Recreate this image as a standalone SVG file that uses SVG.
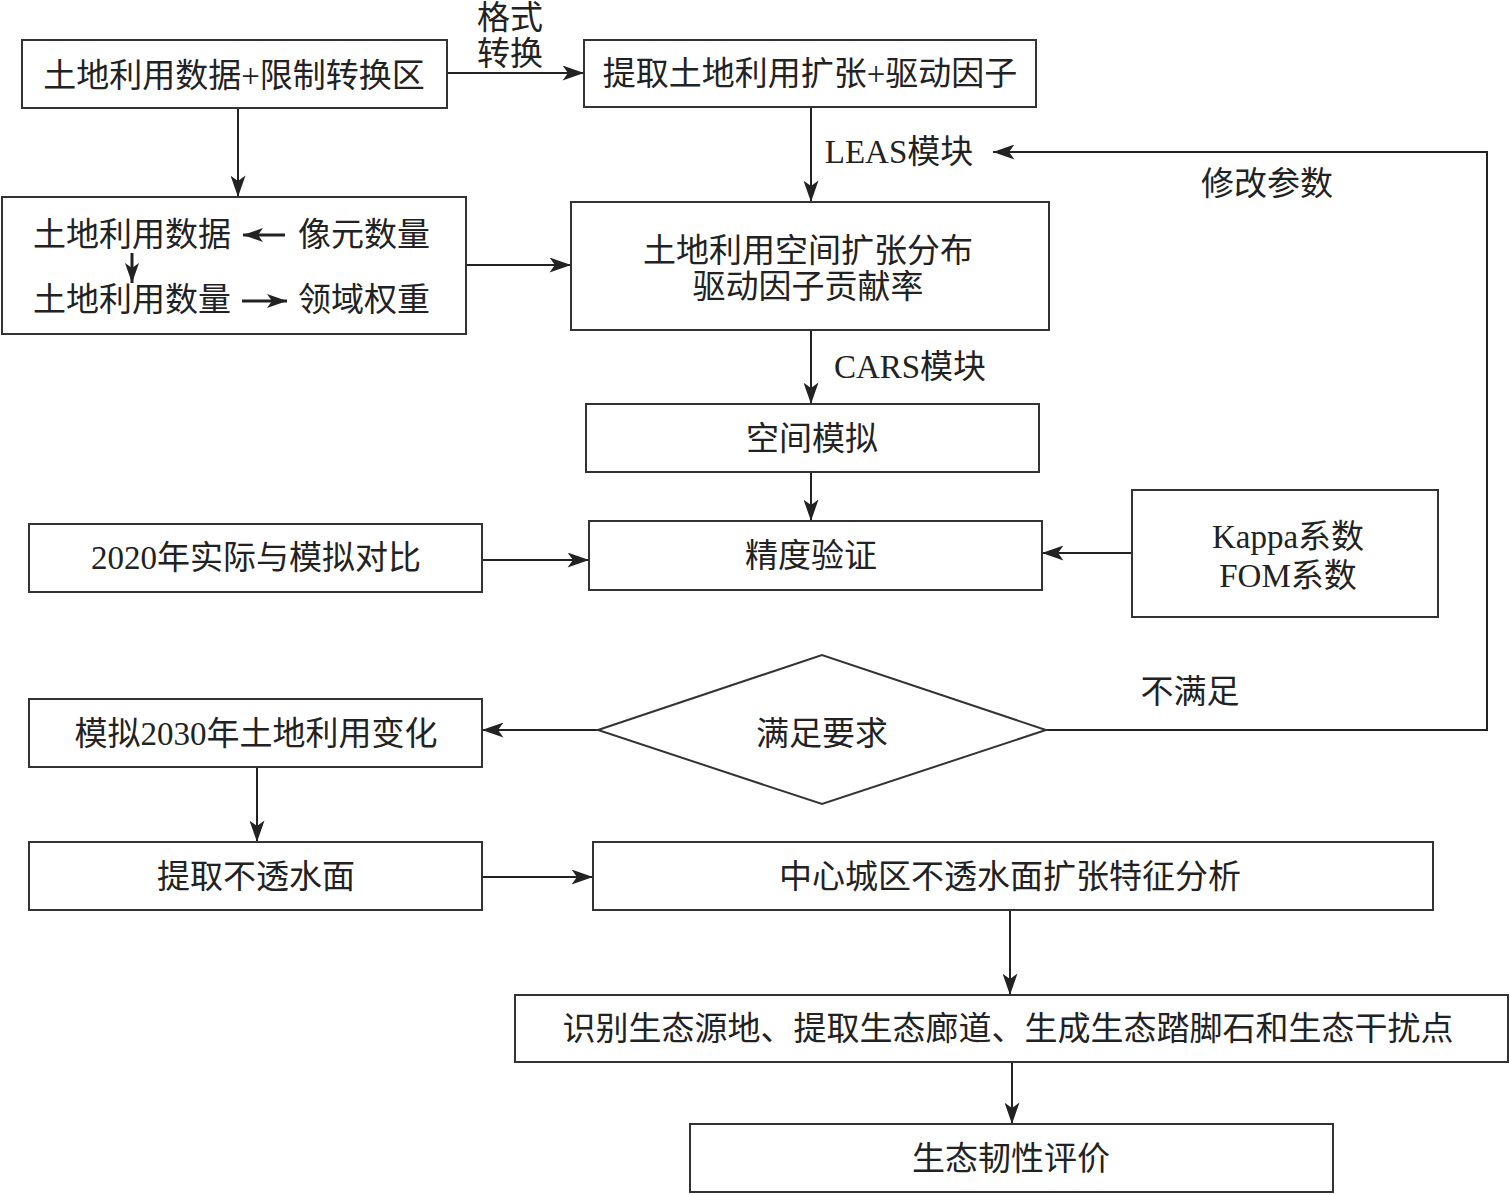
<svg xmlns="http://www.w3.org/2000/svg" width="1510" height="1195" viewBox="0 0 1510 1195">
<defs>
<marker id="ah" viewBox="0 0 20 14" refX="20" refY="7" markerWidth="22" markerHeight="15" markerUnits="userSpaceOnUse" orient="auto">
<path d="M0,0 L20,7 L0,14 L5,7 z" fill="#222"/>
</marker>
<marker id="ahs" viewBox="0 0 20 14" refX="20" refY="7" markerWidth="20" markerHeight="15" markerUnits="userSpaceOnUse" orient="auto">
<path d="M0,0 L20,7 L0,14 L5,7 z" fill="#222"/>
</marker>
</defs>
<style>
rect, polygon { fill: #fff; stroke: #333; stroke-width: 2; }
text { font-family: "Liberation Serif", "Noto Sans CJK SC", serif; font-size: 33px; fill: #222; text-anchor: middle; dominant-baseline: central; }
.c line, .c polyline { stroke: #222; stroke-width: 2; fill: none; marker-end: url(#ah); }
.s { stroke: #222; stroke-width: 3; fill: none; marker-end: url(#ahs); }
</style>
<rect x="0" y="0" width="1510" height="1195" style="fill:#fff;stroke:none"/>

<g class="c" id="connectors">
<line x1="447" y1="73" x2="584" y2="73"/>
<line x1="238" y1="108" x2="238" y2="197"/>
<line x1="811" y1="107" x2="811" y2="202"/>
<line x1="466" y1="265" x2="571" y2="265"/>
<polyline points="1046,730 1487,730 1487,152 993,152"/>
<line x1="811" y1="330" x2="811" y2="404"/>
<line x1="811" y1="472" x2="811" y2="521"/>
<line x1="482" y1="560" x2="589" y2="560"/>
<line x1="1132" y1="553" x2="1042" y2="553"/>
<line x1="598" y1="730" x2="482" y2="730"/>
<line x1="257" y1="767" x2="257" y2="842"/>
<line x1="482" y1="877" x2="593" y2="877"/>
<line x1="1010" y1="910" x2="1010" y2="995"/>
<line x1="1012" y1="1062" x2="1012" y2="1124"/>
</g>

<g id="labels">
<text x="510" y="18">格式</text>
<text x="510" y="54">转换</text>
<text x="899" y="152">LEAS模块</text>
<text x="1267" y="184">修改参数</text>
<text x="910" y="367">CARS模块</text>
<text x="1190" y="692">不满足</text>
</g>

<g id="n1"><rect x="22" y="40" width="425" height="68"/><text x="234" y="76">土地利用数据+限制转换区</text></g>
<g id="n2"><rect x="584" y="40" width="452" height="67"/><text x="810" y="74">提取土地利用扩张+驱动因子</text></g>
<g id="n3"><rect x="2" y="197" width="464" height="137"/>
<text x="132" y="235">土地利用数据</text>
<text x="364" y="235">像元数量</text>
<text x="132" y="300">土地利用数量</text>
<text x="364" y="300">领域权重</text>
<line class="s" x1="285" y1="235" x2="243" y2="235"/>
<line class="s" x1="132" y1="253" x2="132" y2="283"/>
<line class="s" x1="242" y1="301" x2="287" y2="301"/>
</g>
<g id="n4"><rect x="571" y="202" width="478" height="128"/><text x="808" y="251">土地利用空间扩张分布</text><text x="808" y="287">驱动因子贡献率</text></g>
<g id="n5"><rect x="586" y="404" width="453" height="68"/><text x="812" y="439">空间模拟</text></g>
<g id="n6"><rect x="589" y="521" width="453" height="69"/><text x="811" y="556">精度验证</text></g>
<g id="n7"><rect x="29" y="524" width="453" height="68"/><text x="256" y="558">2020年实际与模拟对比</text></g>
<g id="n8"><rect x="1132" y="490" width="306" height="127"/><text x="1288" y="537">Kappa系数</text><text x="1288" y="576">FOM系数</text></g>
<g id="n9"><polygon points="598,730 822,655 1046,730 822,804"/><text x="822" y="734">满足要求</text></g>
<g id="n10"><rect x="29" y="699" width="453" height="68"/><text x="256" y="734">模拟2030年土地利用变化</text></g>
<g id="n11"><rect x="29" y="842" width="453" height="68"/><text x="256" y="877">提取不透水面</text></g>
<g id="n12"><rect x="593" y="842" width="840" height="68"/><text x="1010" y="877">中心城区不透水面扩张特征分析</text></g>
<g id="n13"><rect x="515" y="995" width="993" height="67"/><text x="1008" y="1029">识别生态源地、提取生态廊道、生成生态踏脚石和生态干扰点</text></g>
<g id="n14"><rect x="690" y="1124" width="643" height="68"/><text x="1011" y="1159">生态韧性评价</text></g>
</svg>
